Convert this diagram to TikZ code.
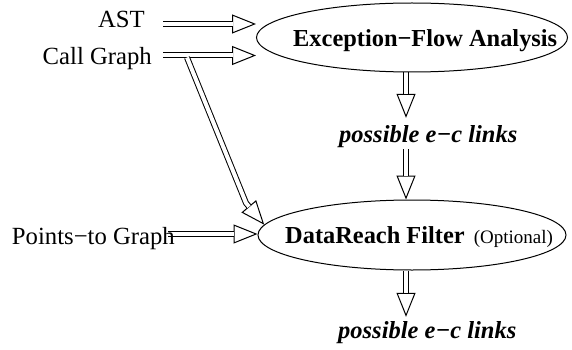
\documentclass[tikz,border=0pt]{standalone}
\usepackage{fontspec}
\setmainfont{Liberation Serif}
\usetikzlibrary{arrows.meta,calc,shapes.geometric,backgrounds}

\newcommand{\hollowarrow}[1]{%
  \draw[hollowhead] #1;
  \draw[hollowshaft] #1;}

\begin{document}
\begin{tikzpicture}[x=1pt,y=-1pt,
  hollowhead/.style={line width=1pt,-{Triangle[open,length=24pt,width=19pt]}},
  hollowshaft/.style={line width=1pt,double,double distance=4pt,shorten >=23.5pt},
  stage/.style={draw,ellipse,line width=1pt,inner sep=0pt},
  source/.style={font=\fontsize{24.7}{28}\selectfont,inner sep=2pt},
  stagetext/.style={font=\fontsize{24.4}{28}\selectfont\bfseries,inner sep=0pt},
  result/.style={font=\fontsize{24.5}{28}\selectfont\bfseries\itshape,inner sep=2pt}]
  \useasboundingbox (0,0) rectangle (572,350);

  \node[stage,minimum width=311pt,minimum height=69pt] (efa) at (412,37.5) {};
  \node[stagetext,anchor=base west] (efatext) at (293,46.7) {Exception−Flow Analysis};
  \node[stage,minimum width=308pt,minimum height=70pt] (dr) at (412,235) {};
  \node[stagetext,anchor=base west] (drtext) at (285,243)
    {DataReach Filter\hspace{9pt}{\mdseries\fontsize{19}{22}\selectfont(Optional)}};

  \node[source,anchor=base east] (ast) at (147,27.7) {AST};
  \node[source,anchor=base east] (cg) at (154,65) {Call Graph};
  \node[source,anchor=base east] (ptg) at (177,244) {Points−to Graph};
  \node[result,anchor=base west] (links1) at (337,142) {possible e−c links};
  \node[result,anchor=base west] (links2) at (336,338) {possible e−c links};

  \coordinate (astout) at ($(ast.base east)+(16,-3.7)$);
  \coordinate (cgout) at ($(cg.base east)+(9,-9.5)$);
  \coordinate (cgbend) at ($(cgout)+(24,2)$);
  \coordinate (cgknee) at (246,203);
  \coordinate (ptout) at ($(ptg.base east)+(-9,-10)$);
  \coordinate (efadown) at ([xshift=-6pt]efa.south);

  \begin{scope}[on background layer]
    \hollowarrow{(astout) -- (astout -| efa.west)}
    \hollowarrow{(cgout) -- (cgout -| efa.west)}
    \hollowarrow{(cgbend) -- (cgknee) -- (dr.176)}
    \hollowarrow{(ptout) -- (ptout -| dr.west)}
    \hollowarrow{(efadown) -- ($(efadown |- links1.north)+(0,-5)$)}
    \hollowarrow{(efadown |- links1.south) -- (efadown |- dr.north)}
    \hollowarrow{(efadown |- dr.south) -- ($(efadown |- links2.north)+(0,-2)$)}
  \end{scope}
\end{tikzpicture}
\end{document}
